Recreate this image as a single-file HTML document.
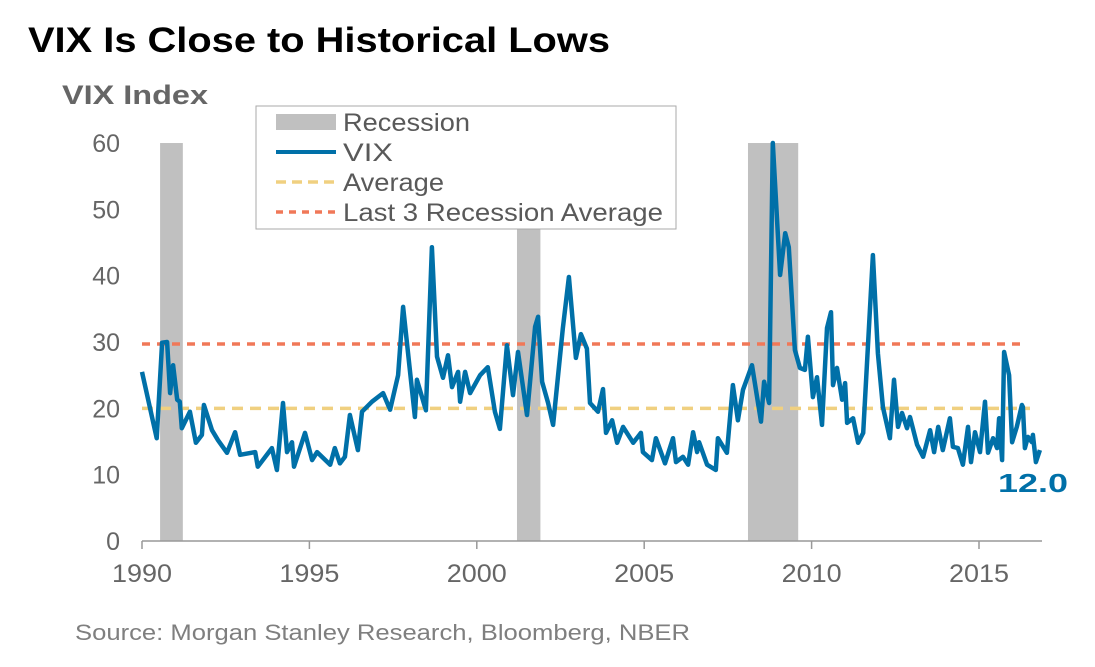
<!DOCTYPE html>
<html><head><meta charset="utf-8"><style>
body{margin:0;background:#fff;width:1095px;height:662px;overflow:hidden;font-family:"Liberation Sans",Arial,sans-serif}
</style></head><body>
<svg id="chart" width="1095" height="662" xmlns="http://www.w3.org/2000/svg" font-family="Liberation Sans, Arial, sans-serif">
<text x="28" y="52" font-size="35" font-weight="bold" fill="#000" textLength="582" lengthAdjust="spacingAndGlyphs">VIX Is Close to Historical Lows</text>
<text x="62" y="104" font-size="27" font-weight="bold" fill="#666" textLength="146" lengthAdjust="spacingAndGlyphs">VIX Index</text>
<g id="rec"></g><g id="grid"></g><g id="lines"></g>
<g>
<rect x="256" y="106" width="420" height="123" fill="#fff" stroke="#aaa" stroke-width="1"/>
<rect x="276" y="114" width="60" height="16" fill="#c0c0c0"/>
<text x="343" y="131" font-size="25" fill="#595959" textLength="127" lengthAdjust="spacingAndGlyphs">Recession</text>
<line x1="276" y1="152" x2="336" y2="152" stroke="#0070a8" stroke-width="4"/>
<text x="343" y="161" font-size="25" fill="#595959" textLength="50" lengthAdjust="spacingAndGlyphs">VIX</text>
<line x1="276" y1="182" x2="336" y2="182" stroke="#f0d080" stroke-width="3.5" stroke-dasharray="10,6"/>
<text x="343" y="191" font-size="25" fill="#595959" textLength="101" lengthAdjust="spacingAndGlyphs">Average</text>
<line x1="276" y1="212" x2="336" y2="212" stroke="#f07858" stroke-width="3.5" stroke-dasharray="7,6"/>
<text x="343" y="221" font-size="25" fill="#595959" textLength="320" lengthAdjust="spacingAndGlyphs">Last 3 Recession Average</text>
</g>
<text x="998" y="492" font-size="26" font-weight="bold" fill="#0070a8" textLength="70" lengthAdjust="spacingAndGlyphs">12.0</text>
<text x="75" y="640" font-size="22" fill="#7f7f7f" textLength="615" lengthAdjust="spacingAndGlyphs">Source: Morgan Stanley Research, Bloomberg, NBER</text>
</svg>
<script>
const yTicks=[0,10,20,30,40,50,60];
const xTicks=[1990,1995,2000,2005,2010,2015];
const recStart=[1990.54,2001.2,2008.1];
const recEnd=[1991.22,2001.9,2009.6];
const avgValue=20.0;
const recAvgValue=29.7;
const vixOffsets=[0,0.44,0.6,0.75,0.84,0.93,1.05,1.13,1.19,1.43,1.61,1.79,1.85,2.09,2.27,2.54,2.78,2.93,3.38,3.46,3.88,4.03,4.21,4.33,4.48,4.54,4.87,5.08,5.23,5.62,5.76,5.91,6.06,6.21,6.45,6.57,6.87,7.2,7.41,7.65,7.8,8.15,8.21,8.48,8.66,8.81,8.99,9.14,9.26,9.44,9.5,9.65,9.8,10.1,10.33,10.54,10.69,10.9,11.08,11.23,11.5,11.74,11.83,11.95,12.13,12.28,12.37,12.57,12.75,12.96,13.11,13.29,13.38,13.62,13.77,13.86,14.04,14.19,14.37,14.67,14.9,14.96,15.23,15.35,15.62,15.86,15.95,16.16,16.31,16.46,16.58,16.64,16.88,17.14,17.2,17.47,17.65,17.8,17.95,18.22,18.49,18.58,18.73,18.84,19.06,19.21,19.32,19.5,19.65,19.8,19.89,20.04,20.16,20.31,20.46,20.58,20.64,20.76,20.91,21,21.06,21.24,21.39,21.54,21.83,21.98,22.13,22.34,22.46,22.58,22.7,22.85,22.94,23.15,23.33,23.54,23.66,23.78,23.92,24.13,24.22,24.37,24.52,24.67,24.76,24.88,25.03,25.18,25.27,25.42,25.54,25.6,25.69,25.75,25.9,25.99,26.13,26.28,26.31,26.37,26.46,26.58,26.61,26.7,26.82];
const vixValues=[25.5,15.5,29.9,30,22.3,26.5,21.3,21,17,19.5,14.8,16,20.5,16.7,15.2,13.3,16.4,13,13.4,11.2,14,10.7,20.8,13.4,14.9,11.2,16.3,12.2,13.4,11.5,14,11.7,12.7,19,13.7,19.5,21,22.3,19.8,25,35.3,18.7,24.3,19.7,44.3,27.8,24.6,28,23.2,25.5,21,25.5,22.3,25,26.2,19.5,16.9,29.5,22,28.5,19,32.3,33.8,24,20.8,17.5,22,32,39.8,27.6,31.2,29,20.8,19.5,22.9,16.3,18.2,14.8,17.2,14.8,16.3,13.4,12.2,15.5,11.7,15.5,11.9,12.7,11.5,16.4,13.4,14.9,11.5,10.7,15.5,13.3,23.5,18.2,22.8,26.5,18,24,20.8,60,40.1,46.4,44.3,28.8,26.1,25.8,30.8,21.7,24.7,17.5,32.1,34.5,23.5,26.1,21.3,23.8,17.8,18.5,14.8,16.3,43.1,28.3,20.2,15.5,24.3,17.2,19.3,17,18.7,14.5,12.7,16.7,13.4,17.2,13.7,18.5,14.2,14,11.5,17.2,11.9,16.4,13.4,21,13.3,15.5,14,18.5,12.2,28.5,25,14.9,17.2,20.5,20.2,14,15.7,14.9,16,11.9,13.7];
const NS="http://www.w3.org/2000/svg";
const X=t=>142+(t-1990)*33.48, Y=v=>541-v*6.633;
function mk(tag,attrs,parent){const e=document.createElementNS(NS,tag);for(const k in attrs)e.setAttribute(k,attrs[k]);parent.appendChild(e);return e;}
const rec=document.getElementById('rec'),grid=document.getElementById('grid'),lines=document.getElementById('lines');
recStart.forEach((s,i)=>{const r=mk('rect',{x:X(s),y:Y(60),width:X(recEnd[i])-X(s),height:Y(0)-Y(60),fill:'#c0c0c0'},rec);

});
yTicks.forEach(v=>{const t=mk('text',{x:120,y:Y(v)+9,'font-size':25,fill:'#666','text-anchor':'end'},grid);t.textContent=v;

});
const ax=mk('line',{x1:142,y1:541,x2:1042,y2:541,stroke:'#999','stroke-width':1.5},grid);


xTicks.forEach(y=>{mk('line',{x1:X(y),y1:541,x2:X(y),y2:549,stroke:'#999','stroke-width':1.5},grid);
const t=mk('text',{x:X(y),y:582,'font-size':25,fill:'#666','text-anchor':'middle',textLength:60,lengthAdjust:'spacingAndGlyphs'},grid);t.textContent=y;

});
const a=mk('line',{x1:142,y1:Y(avgValue),x2:1030,y2:Y(avgValue),stroke:'#f0d080','stroke-width':3.5,'stroke-dasharray':'11,7'},lines);


const r3=mk('line',{x1:142,y1:Y(recAvgValue),x2:1020,y2:Y(recAvgValue),stroke:'#f07858','stroke-width':3.5,'stroke-dasharray':'8,7'},lines);


const pts=vixOffsets.map((o,i)=>X(1990+o).toFixed(1)+','+Y(vixValues[i]).toFixed(1)).join(' ');
const vl=mk('polyline',{points:pts,fill:'none',stroke:'#0070a8','stroke-width':4.5,'stroke-linejoin':'round'},lines);


</script>
</body></html>
